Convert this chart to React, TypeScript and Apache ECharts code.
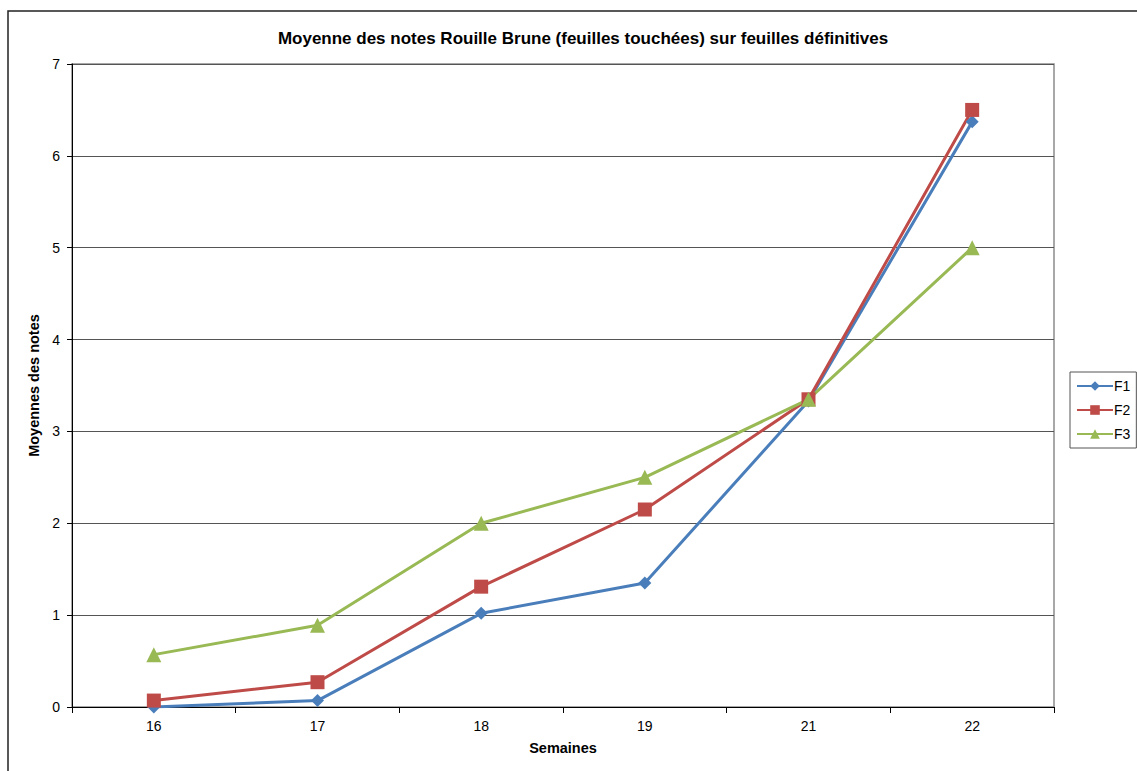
import React, { useEffect, useRef } from "react";
import * as echarts from "echarts";

const categories = ["16", "17", "18", "19", "21", "22"];
const f1 = [0, 0.07, 1.02, 1.35, 3.33, 6.37];
const f2 = [0.07, 0.27, 1.31, 2.15, 3.35, 6.5];
const f3 = [0.57, 0.89, 2.0, 2.5, 3.35, 5.0];

const FONT = "Arial, 'Liberation Sans', sans-serif";

export default function App() {
  const ref = useRef<HTMLDivElement>(null);
  useEffect(() => {
    if (!ref.current) return;
    const chart = echarts.init(ref.current, null, { renderer: "svg" });
    const mk = (name: string, data: number[], color: string, symbol: string, size: number) => ({
      name,
      type: "line",
      data,
      symbol,
      symbolSize: size,
      color,
      lineStyle: { color, width: 3 },
      itemStyle: { color },
    });
    chart.setOption({
      animation: false,
      backgroundColor: "#fff",
      textStyle: { fontFamily: FONT },
      title: {
        text: "Moyenne des notes Rouille Brune (feuilles touchées) sur feuilles définitives",
        left: 578,
        textAlign: "center",
        top: 25,
        textStyle: { fontSize: 17, fontWeight: "bold", color: "#000", fontFamily: FONT },
      },
      graphic: [
        {
          type: "rect",
          shape: { x: 8, y: 11, width: 1200, height: 800 },
          style: { fill: "none", stroke: "#222", lineWidth: 1.5 },
          silent: true,
        },
      ],
      grid: {
        left: 72,
        top: 64,
        right: 83,
        bottom: 64,
        show: true,
        borderColor: "#8c8c8c",
        borderWidth: 1.5,
      },
      legend: {
        orient: "vertical",
        left: 1070,
        top: 372,
        borderColor: "#555",
        borderWidth: 1,
        padding: [7, 6, 7, 6],
        itemGap: 10,
        itemWidth: 36,
        itemHeight: 12,
        textStyle: { fontSize: 14, color: "#000", fontFamily: FONT, padding: [0, 0, 0, -4] },
        data: ["F1", "F2", "F3"],
      },
      xAxis: {
        type: "category",
        data: categories,
        boundaryGap: true,
        name: "Semaines",
        nameLocation: "middle",
        nameGap: 33,
        nameTextStyle: { fontSize: 14.5, fontWeight: "bold", color: "#000" },
        axisLine: { lineStyle: { color: "#000", width: 1 } },
        axisTick: { show: true, length: 6, lineStyle: { color: "#000" } },
        axisLabel: { fontSize: 14, color: "#000", margin: 12 },
      },
      yAxis: {
        type: "value",
        min: 0,
        max: 7,
        interval: 1,
        name: "Moyennes des notes",
        nameLocation: "middle",
        nameGap: 27,
        nameTextStyle: { fontSize: 14.5, fontWeight: "bold", color: "#000" },
        axisLine: { show: true, lineStyle: { color: "#000", width: 1 } },
        axisTick: { show: true, length: 5, lineStyle: { color: "#000" } },
        axisLabel: { fontSize: 14, color: "#000", margin: 12 },
        splitLine: { show: true, lineStyle: { color: "#555", width: 1 } },
      },
      series: [
        mk("F1", f1, "#4A7EBB", "diamond", 13),
        mk("F2", f2, "#BE4B48", "rect", 14),
        mk("F3", f3, "#98B954", "triangle", 15),
      ],
    });
    return () => chart.dispose();
  }, []);
  return (
    <div
      ref={ref}
      style={{ position: "absolute", left: 0, top: 0, width: 1137, height: 771 }}
    />
  );
}
